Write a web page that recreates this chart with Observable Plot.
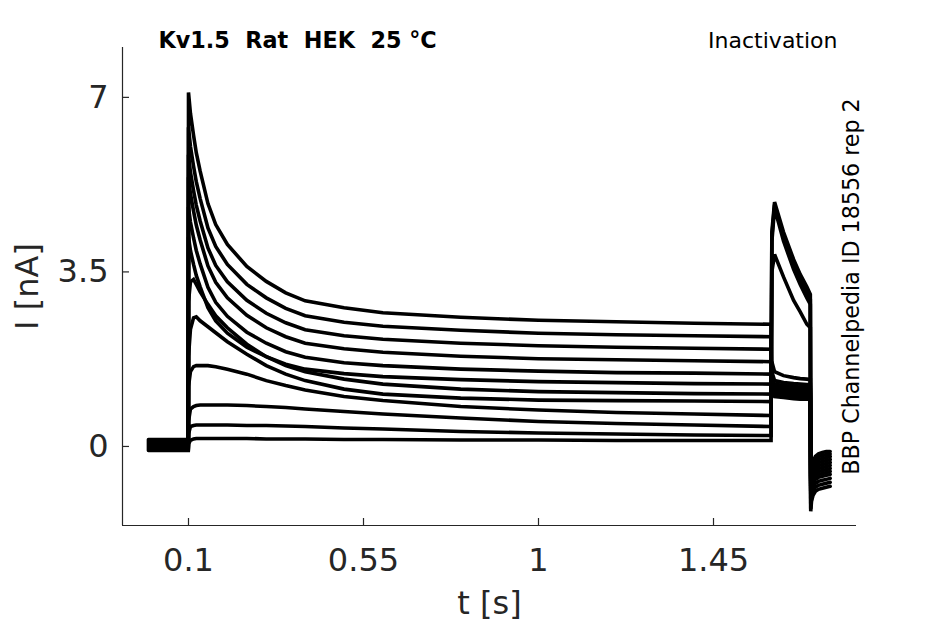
<!DOCTYPE html>
<html>
<head>
<meta charset="utf-8">
<script src="https://cdn.jsdelivr.net/npm/d3@7"></script>
<script src="https://cdn.jsdelivr.net/npm/@observablehq/plot@0.6"></script>
<style>
  html, body { margin: 0; padding: 0; background: white; }
  #chart svg { display: block; }
</style>
</head>
<body>
<div id="chart"></div>
<script>
// ---- Tick labels / scale ranges ----
const xTicks = [0.1, 0.55, 1, 1.45];
const yTicks = [0, 3.5, 7];
const xDomain = [-0.0697, 1.8177];
const yDomain = [-1.585, 8.0];

// ---- Time points of each protocol segment (s) ----
const baseT = [-0.003, 0.0995];
const preT = [0.1, 0.105, 0.113, 0.12, 0.13, 0.15, 0.17, 0.2, 0.25, 0.3, 0.35, 0.4, 0.5, 0.6, 0.8, 1.0, 1.2, 1.4, 1.598];
const testT = [1.6, 1.607, 1.63, 1.656, 1.673, 1.69, 1.699];
const tailT = [1.7, 1.702, 1.706, 1.712, 1.72, 1.73, 1.74, 1.75];

// ---- Currents (nA), one row per sweep ----
const baselineI = [0.14, 0.12, 0.10, 0.08, 0.06, 0.04, 0.02, 0.0, -0.02, -0.04, -0.06, -0.08];
const prepulseI = [
  [7.10, 6.68, 6.24, 5.89, 5.52, 4.87, 4.45, 4.05, 3.61, 3.31, 3.08, 2.92, 2.78, 2.68, 2.59, 2.53, 2.50, 2.47, 2.45],
  [6.40, 6.02, 5.62, 5.31, 4.97, 4.38, 4.01, 3.65, 3.25, 2.98, 2.77, 2.62, 2.49, 2.41, 2.33, 2.27, 2.24, 2.22, 2.20],
  [5.85, 5.50, 5.13, 4.84, 4.52, 3.98, 3.63, 3.30, 2.93, 2.67, 2.48, 2.34, 2.22, 2.15, 2.07, 2.02, 1.99, 1.97, 1.95],
  [5.40, 5.07, 4.72, 4.44, 4.14, 3.62, 3.29, 2.98, 2.63, 2.38, 2.20, 2.07, 1.96, 1.89, 1.81, 1.76, 1.74, 1.72, 1.70],
  [4.80, 4.50, 4.18, 3.93, 3.66, 3.19, 2.89, 2.61, 2.29, 2.07, 1.90, 1.79, 1.68, 1.62, 1.55, 1.51, 1.48, 1.47, 1.45],
  [4.20, 3.93, 3.65, 3.43, 3.20, 2.78, 2.52, 2.27, 1.99, 1.80, 1.65, 1.55, 1.46, 1.40, 1.34, 1.30, 1.28, 1.26, 1.25],
  [2.90, 3.30, 3.35, 3.25, 3.10, 2.85, 2.62, 2.38, 2.05, 1.80, 1.62, 1.50, 1.35, 1.25, 1.15, 1.10, 1.08, 1.06, 1.05],
  [1.80, 2.35, 2.58, 2.60, 2.52, 2.40, 2.28, 2.10, 1.85, 1.62, 1.45, 1.32, 1.15, 1.05, 0.97, 0.93, 0.92, 0.91, 0.90],
  [1.20, 1.50, 1.60, 1.62, 1.62, 1.62, 1.60, 1.55, 1.45, 1.32, 1.22, 1.13, 1.00, 0.92, 0.80, 0.73, 0.68, 0.65, 0.62],
  [0.50, 0.75, 0.80, 0.82, 0.83, 0.83, 0.83, 0.83, 0.82, 0.80, 0.78, 0.75, 0.70, 0.65, 0.57, 0.50, 0.46, 0.43, 0.40],
  [0.25, 0.40, 0.42, 0.43, 0.43, 0.43, 0.43, 0.43, 0.42, 0.42, 0.41, 0.40, 0.37, 0.35, 0.30, 0.27, 0.25, 0.23, 0.22],
  [0.05, 0.12, 0.15, 0.16, 0.16, 0.16, 0.16, 0.16, 0.16, 0.15, 0.15, 0.15, 0.14, 0.14, 0.13, 0.13, 0.12, 0.12, 0.12]
];
const testI = [
  [1.10, 1.00, 0.98, 0.96, 0.95, 0.95, 0.94],
  [1.15, 1.05, 1.03, 1.01, 1.00, 1.00, 0.99],
  [1.20, 1.10, 1.08, 1.06, 1.05, 1.05, 1.04],
  [1.25, 1.15, 1.13, 1.11, 1.10, 1.10, 1.09],
  [1.30, 1.20, 1.18, 1.16, 1.15, 1.15, 1.14],
  [1.40, 1.25, 1.22, 1.20, 1.19, 1.18, 1.18],
  [1.50, 1.32, 1.28, 1.26, 1.25, 1.24, 1.24],
  [1.70, 1.50, 1.42, 1.38, 1.36, 1.35, 1.34],
  [3.50, 3.85, 3.40, 2.93, 2.70, 2.45, 2.38],
  [4.10, 4.78, 4.12, 3.55, 3.25, 2.98, 2.85],
  [4.20, 4.85, 4.22, 3.68, 3.36, 3.10, 2.95],
  [4.30, 4.90, 4.30, 3.75, 3.45, 3.20, 3.05]
];
const tailI = [
  [-0.60, -0.45, -0.30, -0.20, -0.15, -0.12, -0.10, -0.10],
  [-0.65, -0.50, -0.35, -0.25, -0.20, -0.18, -0.16, -0.15],
  [-0.70, -0.55, -0.40, -0.30, -0.26, -0.24, -0.22, -0.20],
  [-0.75, -0.60, -0.45, -0.36, -0.32, -0.30, -0.28, -0.26],
  [-0.80, -0.65, -0.50, -0.42, -0.38, -0.36, -0.34, -0.32],
  [-0.85, -0.70, -0.56, -0.48, -0.44, -0.42, -0.40, -0.38],
  [-0.90, -0.75, -0.62, -0.54, -0.50, -0.48, -0.46, -0.44],
  [-0.95, -0.80, -0.68, -0.60, -0.56, -0.54, -0.52, -0.50],
  [-1.05, -0.88, -0.75, -0.66, -0.62, -0.60, -0.58, -0.56],
  [-1.15, -0.95, -0.82, -0.74, -0.70, -0.68, -0.66, -0.64],
  [-1.25, -1.02, -0.90, -0.82, -0.78, -0.76, -0.74, -0.72],
  [-1.30, -1.10, -0.98, -0.90, -0.86, -0.84, -0.82, -0.80]
];

// ---- Texts ----
const titleText = "Kv1.5  Rat  HEK  25 °C";
const protocolText = "Inactivation";
const sourceText = "BBP Channelpedia ID 18556 rep 2";
const xLabel = "t [s]";
const yLabel = "I [nA]";

// ---- Build the long table from the arrays ----
const rows = [];
prepulseI.forEach((pre, k) => {
  baseT.forEach(t => rows.push({sweep: k, t, I: baselineI[k]}));
  preT.forEach((t, i) => rows.push({sweep: k, t, I: pre[i]}));
  testT.forEach((t, i) => rows.push({sweep: k, t, I: testI[k][i]}));
  tailT.forEach((t, i) => rows.push({sweep: k, t, I: tailI[k][i]}));
});

const W = 945, H = 624;
const M = {left: 122, right: 89, top: 47, bottom: 99};
const frameW = W - M.left - M.right;
const frameH = H - M.top - M.bottom;
const tickLen = 7;
const ink = "#262626";

const chart = Plot.plot({
  width: W,
  height: H,
  marginLeft: M.left,
  marginRight: M.right,
  marginTop: M.top,
  marginBottom: M.bottom,
  style: {fontFamily: "DejaVu Sans", background: "white", color: ink, overflow: "visible"},
  x: {domain: xDomain, label: null},
  y: {domain: yDomain, label: null},
  marks: [
    Plot.line(rows, {x: "t", y: "I", z: "sweep", stroke: "black", strokeWidth: 3.6, strokeLinejoin: "miter", strokeMiterlimit: 2}),
    Plot.ruleX([xDomain[0]], {stroke: ink, strokeWidth: 1.2}),
    Plot.ruleY([yDomain[0]], {stroke: ink, strokeWidth: 1.2}),
    // inward tick marks
    Plot.tickX(xTicks, {x: d => d, insetTop: frameH - tickLen, stroke: ink, strokeWidth: 1.2}),
    Plot.tickY(yTicks, {y: d => d, insetRight: frameW - tickLen, stroke: ink, strokeWidth: 1.2}),
    Plot.axisX(xTicks, {tickSize: 0, tickPadding: 23, fontSize: 32, tickFormat: d => String(d), label: null, fill: ink}),
    Plot.axisY(yTicks, {tickSize: 0, tickPadding: 14, fontSize: 32, tickFormat: d => String(d), label: null, fill: ink}),
    Plot.text([titleText], {frameAnchor: "top-left", dx: 36, dy: 0, textAnchor: "start", lineAnchor: "bottom", fontWeight: "bold", fontSize: 22.3, fill: "black"}),
    Plot.text([protocolText], {frameAnchor: "top-right", dx: -19, dy: 0, textAnchor: "end", lineAnchor: "bottom", fontSize: 22, fill: "black"}),
    Plot.text([sourceText], {frameAnchor: "right", dx: 2, rotate: -90, textAnchor: "middle", lineAnchor: "bottom", fontSize: 22.2, fill: "black"}),
    Plot.text([yLabel], {frameAnchor: "left", dx: -85, rotate: -90, textAnchor: "middle", lineAnchor: "bottom", fontSize: 32, fill: ink}),
    Plot.text([xLabel], {frameAnchor: "bottom", dy: 88, textAnchor: "middle", lineAnchor: "bottom", fontSize: 32, fill: ink})
  ]
});
document.getElementById("chart").appendChild(chart);
</script>
</body>
</html>
